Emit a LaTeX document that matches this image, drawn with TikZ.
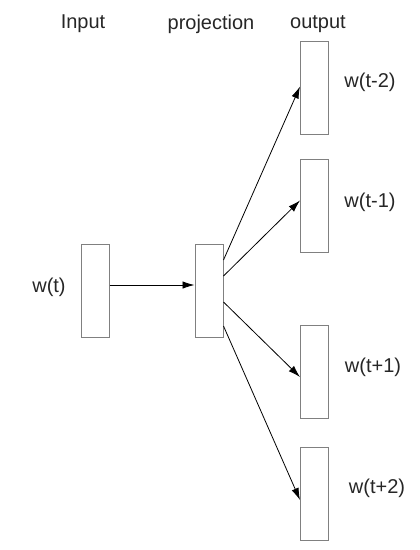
\documentclass[tikz,border=0pt]{standalone}
\usepackage{fontspec}
\setmainfont{Liberation Sans}
\usetikzlibrary{arrows.meta}
\tikzset{
	layer/.style={draw=gray, line width=1pt, fill=white, minimum width=28pt, minimum height=93pt, inner sep=0pt},
	lbl/.style={text=black!85, font=\fontsize{20}{23}\selectfont, inner sep=0pt},
	conn/.style={-{Latex[length=12pt,width=7.5pt]}, line width=0.8pt}
}
\begin{document}
\begin{tikzpicture}[x=1pt, y=-1pt]
		\useasboundingbox (0,0) rectangle (420,550);
		\node[lbl] (tin) at (83,24) {Input};
		\node[lbl] (tproj) at (211,24) {projection};
		\node[lbl] (tout) at (318,24) {output};
	
		\node[layer] (in) at (95,291) {};
		\node[layer] (proj) at (209,291) {};
		\node[layer] (o1) at (314.5,87.5) {};
		\node[layer] (o2) at (314.5,205.5) {};
		\node[layer] (o3) at (314.5,372) {};
		\node[layer] (o4) at (314.5,494) {};
	
		\node[lbl] (lin) at (49,287) {w(t)};
		\node[lbl] (l1) at (370,82) {w(t-2)};
		\node[lbl] (l2) at (370,202) {w(t-1)};
		\node[lbl] (l3) at (373,367) {w(t+1)};
		\node[lbl] (l4) at (377,488) {w(t+2)};
	
		\draw[conn] ([yshift=6pt]in.east) -- ([yshift=6pt]proj.west);
		\draw[conn] ([yshift=31pt]proj.east) -- ([yshift=1pt]o1.west);
		\draw[conn] ([yshift=15pt]proj.east) -- ([yshift=5pt]o2.west);
		\draw[conn] ([yshift=-11pt]proj.east) -- ([yshift=-5pt]o3.west);
		\draw[conn] ([yshift=-35pt]proj.east) -- ([yshift=-6pt]o4.west);
	\end{tikzpicture}
\end{document}
